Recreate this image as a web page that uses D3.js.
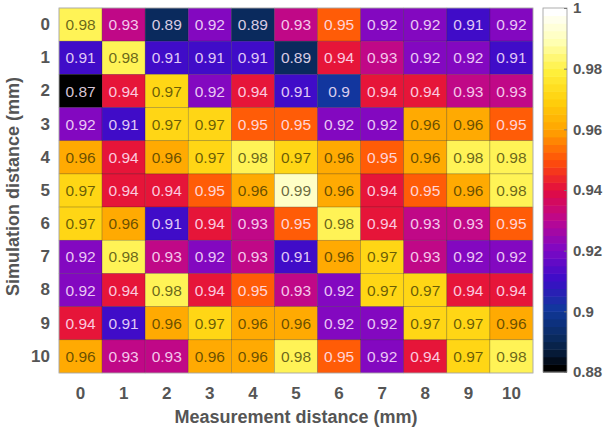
<!DOCTYPE html>
<html>
<head>
<meta charset="utf-8">
<script src="https://cdn.jsdelivr.net/npm/d3@7"></script>
<style>
  body { margin: 0; background: #fff; }
  svg text { font-family: "Liberation Sans", Arial, sans-serif; }
</style>
</head>
<body>
<svg id="chart" width="610" height="435"></svg>
<script>
// distances (mm)
const measDist = [0, 1, 2, 3, 4, 5, 6, 7, 8, 9, 10];
const simDist = [0, 1, 2, 3, 4, 5, 6, 7, 8, 9, 10];

// correlation values, one row per simulation distance
const row0 = [0.98, 0.93, 0.89, 0.92, 0.89, 0.93, 0.95, 0.92, 0.92, 0.91, 0.92];
const row1 = [0.91, 0.98, 0.91, 0.91, 0.91, 0.89, 0.94, 0.93, 0.92, 0.92, 0.91];
const row2 = [0.87, 0.94, 0.97, 0.92, 0.94, 0.91, 0.90, 0.94, 0.94, 0.93, 0.93];
const row3 = [0.92, 0.91, 0.97, 0.97, 0.95, 0.95, 0.92, 0.92, 0.96, 0.96, 0.95];
const row4 = [0.96, 0.94, 0.96, 0.97, 0.98, 0.97, 0.96, 0.95, 0.96, 0.98, 0.98];
const row5 = [0.97, 0.94, 0.94, 0.95, 0.96, 0.99, 0.96, 0.94, 0.95, 0.96, 0.98];
const row6 = [0.97, 0.96, 0.91, 0.94, 0.93, 0.95, 0.98, 0.94, 0.93, 0.93, 0.95];
const row7 = [0.92, 0.98, 0.93, 0.92, 0.93, 0.91, 0.96, 0.97, 0.93, 0.92, 0.92];
const row8 = [0.92, 0.94, 0.98, 0.94, 0.95, 0.93, 0.92, 0.97, 0.97, 0.94, 0.94];
const row9 = [0.94, 0.91, 0.96, 0.97, 0.96, 0.96, 0.92, 0.92, 0.97, 0.97, 0.96];
const row10 = [0.96, 0.93, 0.93, 0.96, 0.96, 0.98, 0.95, 0.92, 0.94, 0.97, 0.98];
const rows = [row0, row1, row2, row3, row4, row5, row6, row7, row8, row9, row10];

const cbTicks = [0.88, 0.9, 0.92, 0.94, 0.96, 0.98, 1];

// colormap stops
const cStops = [0.88, 0.885, 0.89, 0.90, 0.91, 0.92, 0.93, 0.94, 0.95, 0.96, 0.97, 0.98, 0.99, 1.0];
const cColors = ["#000000", "#061a36", "#0a2a5c", "#10389c", "#3c0cc8", "#7e08c4",
  "#bc0890", "#e20c40", "#ff5008", "#ffa200", "#ffd00c", "#fff03c", "#ffffb4", "#ffffff"];

const cells = [];
rows.forEach((r, i) => r.forEach((v, j) => cells.push({ row: simDist[i], col: measDist[j], v: v })));

const svg = d3.select("#chart");
const plot = { left: 59, right: 533, top: 8, bottom: 373 };

const x = d3.scaleBand().domain(measDist).range([plot.left, plot.right]);
const y = d3.scaleBand().domain(simDist).range([plot.top, plot.bottom]);

const smooth = d3.scaleLinear().domain(cStops).range(cColors).clamp(true);
// banded like the original colorbar
const nBands = 48;
const color = d3.scaleQuantize()
  .domain([0.88 - 0.06 / nBands, 1 - 0.06 / nBands])
  .range(d3.range(nBands).map(k => smooth(0.88 + k * 0.12 / (nBands - 1))));

// cells
svg.append("g")
  .selectAll("rect")
  .data(cells)
  .join("rect")
  .attr("x", d => x(d.col))
  .attr("y", d => y(d.row))
  .attr("width", x.bandwidth())
  .attr("height", y.bandwidth())
  .attr("fill", d => color(d.v))
  .attr("stroke", "rgba(0,0,0,0.3)")
  .attr("stroke-width", 0.6);

svg.append("g")
  .selectAll("text")
  .data(cells)
  .join("text")
  .attr("x", d => x(d.col) + x.bandwidth() / 2)
  .attr("y", d => y(d.row) + y.bandwidth() / 2)
  .attr("dy", "0.36em")
  .attr("text-anchor", "middle")
  .attr("font-size", 15.5)
  .attr("fill", d => d.v >= 0.955 ? "rgba(40,40,0,0.7)" : "rgba(255,235,255,0.85)")
  .text(d => d3.format("")(d.v));

// frame
svg.append("rect")
  .attr("x", plot.left).attr("y", plot.top)
  .attr("width", plot.right - plot.left).attr("height", plot.bottom - plot.top)
  .attr("fill", "none").attr("stroke", "#bbb").attr("stroke-width", 0.8);

// axes
const xAxis = svg.append("g")
  .attr("transform", `translate(0,${plot.bottom})`)
  .call(d3.axisBottom(x).tickSize(0).tickPadding(14));
const yAxis = svg.append("g")
  .attr("transform", `translate(${plot.left},0)`)
  .call(d3.axisLeft(y).tickSize(0).tickPadding(9));
[xAxis, yAxis].forEach(a => {
  a.select(".domain").remove();
  a.selectAll("text")
    .attr("font-size", 17)
    .attr("font-weight", "bold")
    .attr("fill", "#555")
    .style("font-family", "Liberation Sans, Arial, sans-serif");
});

svg.append("text")
  .attr("x", (plot.left + plot.right) / 2)
  .attr("y", 423)
  .attr("text-anchor", "middle")
  .attr("font-size", 18)
  .attr("font-weight", "bold")
  .attr("fill", "#555")
  .text("Measurement distance (mm)");

svg.append("text")
  .attr("transform", `translate(19,${(plot.top + plot.bottom) / 2 - 4}) rotate(-90)`)
  .attr("text-anchor", "middle")
  .attr("font-size", 18)
  .attr("font-weight", "bold")
  .attr("fill", "#555")
  .text("Simulation distance (mm)");

// colorbar
const cb = { left: 543, width: 24, top: 8, bottom: 372 };
const cy = d3.scaleLinear().domain([0.88, 1]).range([cb.bottom, cb.top]);
const step = 0.12 / nBands;
const bandVals = d3.range(nBands).map(k => 0.88 + k * step);
svg.append("g")
  .selectAll("rect")
  .data(bandVals)
  .join("rect")
  .attr("x", cb.left)
  .attr("y", d => cy(d + step))
  .attr("width", cb.width)
  .attr("height", d => cy(d) - cy(d + step) + 0.5)
  .attr("fill", (d, k) => color.range()[k]);
svg.append("rect")
  .attr("x", cb.left).attr("y", cb.top)
  .attr("width", cb.width).attr("height", cb.bottom - cb.top)
  .attr("fill", "none").attr("stroke", "#999").attr("stroke-width", 0.8);

const cbAxis = svg.append("g")
  .attr("transform", `translate(${cb.left + cb.width},0)`)
  .call(d3.axisRight(cy).tickValues(cbTicks).tickSize(-3).tickPadding(6)
    .tickFormat(d3.format("")));
cbAxis.select(".domain").remove();
cbAxis.selectAll(".tick line").attr("stroke", "#777");
cbAxis.selectAll("text")
  .attr("font-size", 15)
  .attr("font-weight", "bold")
  .attr("fill", "#555")
  .style("font-family", "Liberation Sans, Arial, sans-serif");
</script>
</body>
</html>
